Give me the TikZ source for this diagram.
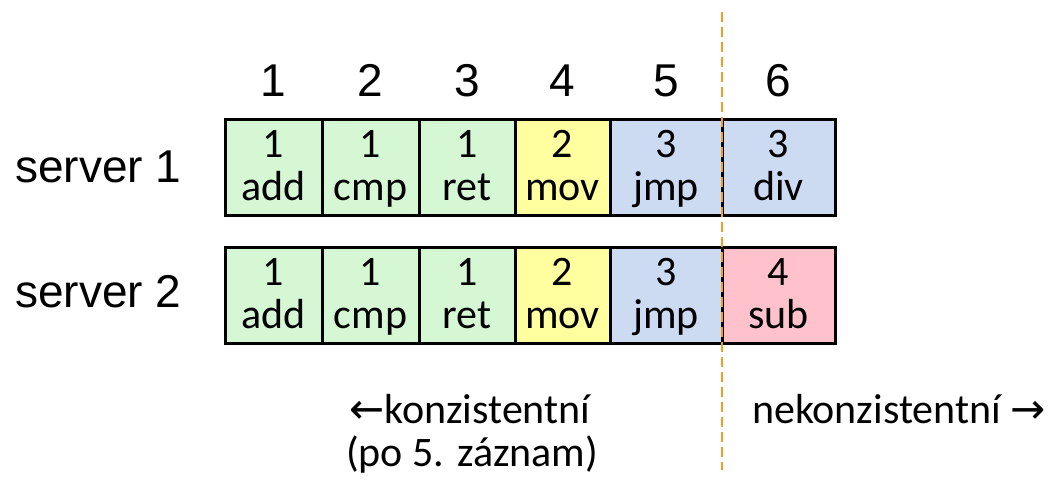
\documentclass[tikz,border=0pt]{standalone}
\usepackage{fontspec}
\setmainfont{Carlito}
\newfontfamily\arialf{Liberation Sans}
\newfontfamily\arrowf{DejaVu Sans}
\definecolor{cgreen}{RGB}{214,247,212}
\definecolor{cyellow}{RGB}{255,255,160}
\definecolor{cblue}{RGB}{204,218,242}
\definecolor{cpink}{RGB}{255,193,204}
\definecolor{corange}{RGB}{243,156,38}
\newcommand{\topln}{\rule{0pt}{38pt}}
\newcommand{\botln}{\rule[-15pt]{0pt}{15pt}}
\tikzset{
  cell/.style={draw=black, line width=3pt, inner sep=0pt, minimum height=96pt,
    align=center, font=\fontsize{42}{43}\selectfont},
  colnum/.style={anchor=base, font=\arialf\fontsize{46}{55}\selectfont, inner sep=0pt},
  srv/.style={anchor=base west, font=\arialf\fontsize{46}{55}\selectfont, inner sep=0pt},
  note/.style={font=\fontsize{42}{48}\selectfont, inner sep=0pt},
  divider/.style={draw=corange, line width=2.6pt, dash pattern=on 10pt off 5pt}
}
\begin{document}
\begin{tikzpicture}[x=1pt,y=-1pt]
\useasboundingbox (0,0) rectangle (1051,482);
% column numbers
\node[colnum] (n1) at (273.5,96) {1};
\node[colnum] (n2) at (370.5,96) {2};
\node[colnum] (n3) at (467,96) {3};
\node[colnum] (n4) at (562.5,96) {4};
\node[colnum] (n5) at (666,96) {5};
\node[colnum] (n6) at (778.5,96) {6};
% server labels
\node[srv] (s1) at (15,182) {server 1};
\node[srv] (s2) at (15,307) {server 2};
% row 1
\node[cell, fill=cgreen, minimum width=97pt] (a1) at (273.5,167) {\topln 1\\add\botln};
\node[cell, fill=cgreen, minimum width=97pt] (a2) at (370.5,167) {\topln 1\\cmp\botln};
\node[cell, fill=cgreen, minimum width=96pt] (a3) at (467,167) {\topln 1\\ret\botln};
\node[cell, fill=cyellow, minimum width=95pt] (a4) at (562.5,167) {\topln 2\\mov\botln};
\node[cell, fill=cblue, minimum width=112pt] (a5) at (666,167) {\topln 3\\jmp\botln};
\node[cell, fill=cblue, minimum width=113pt] (a6) at (778.5,167) {\topln 3\\div\botln};
% row 2
\node[cell, fill=cgreen, minimum width=97pt] (b1) at (273.5,295) {\topln 1\\add\botln};
\node[cell, fill=cgreen, minimum width=97pt] (b2) at (370.5,295) {\topln 1\\cmp\botln};
\node[cell, fill=cgreen, minimum width=96pt] (b3) at (467,295) {\topln 1\\ret\botln};
\node[cell, fill=cyellow, minimum width=95pt] (b4) at (562.5,295) {\topln 2\\mov\botln};
\node[cell, fill=cblue, minimum width=112pt] (b5) at (666,295) {\topln 3\\jmp\botln};
\node[cell, fill=cpink, minimum width=113pt] (b6) at (778.5,295) {\topln 4\\sub\botln};
% divider
\coordinate (dtop) at (722,12);
\coordinate (dbot) at (722,470);
\draw[divider] (dtop) -- (dbot);
% notes
\node[note, anchor=base west] (k1) at (349,423) {{\arrowf\fontsize{42}{42}\selectfont ←}konzistentní};
\node[note, anchor=base west] (k2) at (346,466) {(po 5. záznam)};
\node[note, anchor=base east] (k3) at (1046,423) {nekonzistentní {\arrowf\fontsize{42}{42}\selectfont →}};
\end{tikzpicture}
\end{document}
